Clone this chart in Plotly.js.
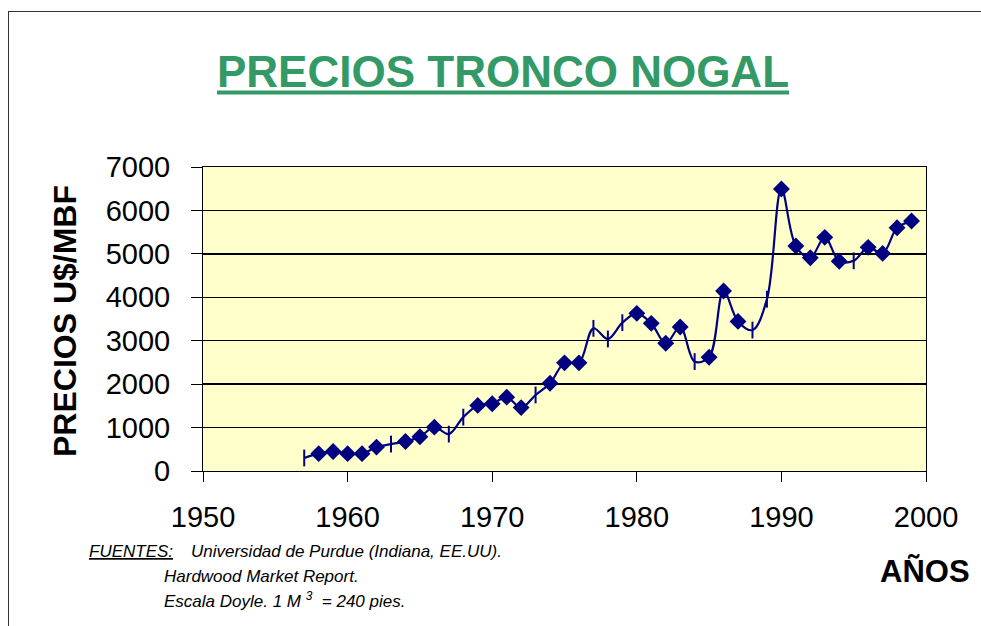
<!DOCTYPE html>
<html>
<head>
<meta charset="utf-8">
<script src="https://cdn.plot.ly/plotly-3.0.1.min.js"></script>
<style>
  html, body { margin: 0; padding: 0; background: #ffffff; }
  #wrap { position: relative; width: 981px; height: 626px; overflow: hidden; }
  #frame { position: absolute; left: 8px; top: 11px; width: 1200px; height: 900px;
           border-left: 1.5px solid #333; border-top: 1.5px solid #333; }
  #chart { position: absolute; left: 0; top: 0; width: 981px; height: 626px; }
</style>
</head>
<body>
<div id="wrap"><div id="frame"></div><div id="chart"></div></div>
<script>
// ---- data ----
const years = [1957,1958,1959,1960,1961,1962,1963,1964,1965,1966,1967,1968,1969,1970,1971,1972,1973,1974,1975,1976,1977,1978,1979,1980,1981,1982,1983,1984,1985,1986,1987,1988,1989,1990,1991,1992,1993,1994,1995,1996,1997,1998,1999];
const prices = [300,400,450,400,400,550,620,680,790,1010,850,1240,1510,1550,1700,1460,1750,2020,2490,2490,3285,3040,3415,3630,3400,2940,3315,2520,2620,4145,3445,3245,3955,6495,5180,4910,5380,4830,4840,5150,5010,5600,5755];
// years drawn with a short vertical tick instead of a diamond
const tickYears = [1957,1963,1967,1968,1973,1977,1978,1979,1984,1988,1989,1995];
const xTickVals = [1950,1960,1970,1980,1990,2000];
const yTickVals = [0,1000,2000,3000,4000,5000,6000,7000];

const chartTitle = 'PRECIOS TRONCO NOGAL';
const yTitle = 'PRECIOS U$/MBF';
const xTitle = 'AÑOS';
const sourceLabel = 'FUENTES:';
const sourceLines = ['Universidad de Purdue (Indiana, EE.UU).', 'Hardwood Market Report.', 'Escala Doyle. 1 M <sup>3</sup>  = 240 pies.'];

// ---- build traces ----
const dx = [], dy = [], tx = [], ty = [];
years.forEach((y, i) => {
  if (tickYears.includes(y)) { tx.push(y); ty.push(prices[i]); }
  else { dx.push(y); dy.push(prices[i]); }
});
const navy = '#000080';
const traces = [
  { x: years, y: prices, type: 'scatter', mode: 'lines',
    line: { color: navy, width: 2.2, shape: 'spline', smoothing: 1 }, hoverinfo: 'skip' },
  { x: tx, y: ty, type: 'scatter', mode: 'markers',
    marker: { symbol: 'line-ns', size: 12, line: { color: navy, width: 2 } } },
  { x: dx, y: dy, type: 'scatter', mode: 'markers',
    marker: { symbol: 'diamond', size: 13, color: navy, line: { color: navy, width: 0 } } }
];

const W = 981, H = 626;
const L = 203, R = 926, T = 167, B = 471;
const px = v => (v - L) / (R - L);
const py = v => (B - v) / (B - T);
const green = '#339966';
const ff = 'Liberation Sans, Arial, sans-serif';
const noteFont = { family: ff, size: 17, color: '#000', style: 'italic' };
const note = (text, x, y) => ({ text: '<i>' + text + '</i>', xref: 'paper', yref: 'paper', x: px(x), y: py(y),
  xanchor: 'left', yanchor: 'middle', showarrow: false, font: noteFont, borderpad: 0 });

const layout = {
  width: W, height: H,
  margin: { l: L, r: W - R, t: T, b: H - B, pad: 0 },
  paper_bgcolor: 'rgba(0,0,0,0)',
  plot_bgcolor: '#FFFFCC',
  showlegend: false,
  title: { text: '<b>' + chartTitle + '</b>', xref: 'container', yref: 'container',
           x: 503 / W, xanchor: 'center', y: 1 - 72 / H, yanchor: 'middle',
           font: { family: ff, size: 44, color: green } },
  xaxis: { range: [1950, 2000], tickvals: xTickVals, ticks: 'outside', ticklen: 10,
           tickwidth: 1, tickcolor: '#000', showgrid: false, zeroline: false,
           showline: true, linecolor: '#000', linewidth: 1, mirror: true,
           tickfont: { family: ff, size: 29, color: '#000' }, ticklabelstandoff: 10 },
  yaxis: { range: [0, 7000], tickvals: yTickVals, ticks: 'outside', ticklen: 11,
           tickwidth: 1, tickcolor: '#000', showgrid: true, gridcolor: '#000', gridwidth: 1.3,
           zeroline: false, showline: true, linecolor: '#000', linewidth: 1, mirror: true,
           tickfont: { family: ff, size: 29, color: '#000' }, ticklabelstandoff: 15 },
  shapes: [
    { type: 'line', xref: 'paper', yref: 'paper', x0: px(217), x1: px(789), y0: py(92.5), y1: py(92.5),
      line: { color: green, width: 4 } }
  ],
  annotations: [
    note('<span style="text-decoration:underline">' + sourceLabel + '</span>', 88, 551),
    note(sourceLines[0], 190, 551),
    note(sourceLines[1], 163, 576),
    note(sourceLines[2], 163, 600),
    { text: '<b>' + yTitle + '</b>', xref: 'paper', yref: 'paper', textangle: -90,
      x: px(65), y: py(321), xanchor: 'center', yanchor: 'middle', showarrow: false,
      font: { family: ff, size: 32, color: '#000' } },
    { text: '<b>' + xTitle + '</b>', xref: 'paper', yref: 'paper',
      x: px(972), y: py(571), xanchor: 'right', yanchor: 'middle', showarrow: false,
      font: { family: ff, size: 31, color: '#000' } }
  ]
};

Plotly.newPlot('chart', traces, layout, { staticPlot: true, displayModeBar: false });
</script>
</body>
</html>
